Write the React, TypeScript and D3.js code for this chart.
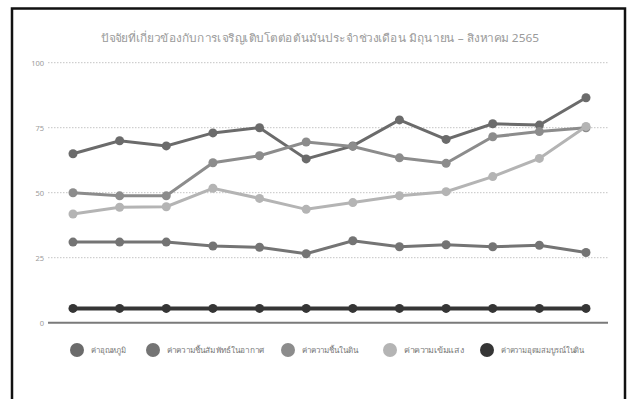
import React, { useEffect, useRef } from "react";
import * as d3 from "d3";

const title =
  "ปัจจัยที่เกี่ยวข้องกับการเจริญเติบโตต่อต้นมันประจำช่วงเดือน มิถุนายน – สิงหาคม 2565";

const categories = ["1", "2", "3", "4", "5", "6", "7", "8", "9", "10", "11", "12"];

const seriesNames = [
  "ค่าอุณหภูมิ",
  "ค่าความชื้นสัมพัทธ์ในอากาศ",
  "ค่าความชื้นในดิน",
  "ค่าความเข้มแสง",
  "ค่าความอุดมสมบูรณ์ในดิน",
];

const temperature = [65, 70, 68, 73, 75, 63, 68, 78, 70.5, 76.5, 76, 86.5];
const airHumidity = [31, 31, 31, 29.5, 29, 26.5, 31.5, 29.2, 30, 29.2, 29.8, 27];
const soilMoisture = [50, 48.8, 48.8, 61.5, 64.2, 69.5, 67.8, 63.4, 61.3, 71.5, 73.5, 75];
const lightIntensity = [41.8, 44.4, 44.6, 51.7, 47.8, 43.6, 46.2, 48.8, 50.4, 56.2, 63.2, 75.5];
const soilFertility = [5.5, 5.5, 5.5, 5.5, 5.5, 5.5, 5.5, 5.5, 5.5, 5.5, 5.5, 5.5];

const yTicks = [0, 25, 50, 75, 100];

const colors = ["#6b6b6b", "#747474", "#8c8c8c", "#b4b4b4", "#353535"];

const W = 634;
const H = 399;

const App = () => {
  const canvas = useRef<SVGSVGElement>(null);

  useEffect(() => {
    const svg = d3.select(canvas.current);
    svg.selectAll("*").remove();

    const data = [temperature, airHumidity, soilMoisture, lightIntensity, soilFertility];

    const x = d3.scalePoint().domain(categories).range([73, 586]);
    const y = d3.scaleLinear().domain([0, 100]).range([322.7, 62.7]);

    svg.append("rect").attr("width", W).attr("height", H).attr("fill", "#fff");

    // frame
    svg
      .append("rect")
      .attr("x", 12)
      .attr("y", 8.5)
      .attr("width", 613)
      .attr("height", 420)
      .attr("fill", "none")
      .attr("stroke", "#111")
      .attr("stroke-width", 2.5);

    svg
      .append("text")
      .text(title)
      .attr("x", 320)
      .attr("y", 42)
      .attr("text-anchor", "middle")
      .attr("font-family", "Noto Sans, DejaVu Sans, sans-serif")
      .attr("font-size", 11)
      .attr("fill", "#9a9a9a")
      .attr("textLength", 438)
      .attr("lengthAdjust", "spacingAndGlyphs");

    // grid + axis labels
    const grid = svg.append("g");
    grid
      .selectAll("line")
      .data(yTicks)
      .enter()
      .append("line")
      .attr("x1", 48)
      .attr("x2", 608)
      .attr("y1", (d) => y(d))
      .attr("y2", (d) => y(d))
      .attr("stroke", (d) => (d === 0 ? "#7a7a7a" : "#c4c4c4"))
      .attr("stroke-width", (d) => (d === 0 ? 2 : 1))
      .attr("stroke-dasharray", (d) => (d === 0 ? null : "1.5,1.5"));

    grid
      .selectAll("text")
      .data(yTicks)
      .enter()
      .append("text")
      .text((d) => d)
      .attr("x", 44)
      .attr("y", (d) => y(d) + 3)
      .attr("text-anchor", "end")
      .attr("font-family", "Noto Sans, sans-serif")
      .attr("font-size", 7.5)
      .attr("fill", "#9a9a9a");

    const line = d3
      .line<number>()
      .x((d, i) => x(categories[i]) as number)
      .y((d) => y(d));

    data.forEach((vals, s) => {
      const g = svg.append("g");
      g.append("path")
        .attr("d", line(vals))
        .attr("fill", "none")
        .attr("stroke", colors[s])
        .attr("stroke-width", s === 4 ? 4 : 3);
      g.selectAll("circle")
        .data(vals)
        .enter()
        .append("circle")
        .attr("cx", (d, i) => x(categories[i]) as number)
        .attr("cy", (d) => y(d))
        .attr("r", 4.5)
        .attr("fill", colors[s]);
    });

    // legend
    const legendMarkers = [77, 153, 288, 390, 487];
    const legendWidths = [35, 97, 56, 60, 83];
    const legend = svg.append("g");
    seriesNames.forEach((name, i) => {
      legend
        .append("circle")
        .attr("cx", legendMarkers[i])
        .attr("cy", 350)
        .attr("r", 7)
        .attr("fill", colors[i]);
      legend
        .append("text")
        .text(name)
        .attr("x", legendMarkers[i] + 14)
        .attr("y", 353)
        .attr("font-family", "Noto Sans, DejaVu Sans, sans-serif")
        .attr("font-size", 8)
        .attr("fill", "#777")
        .attr("textLength", legendWidths[i])
        .attr("lengthAdjust", "spacingAndGlyphs");
    });
  }, []);

  return (
    <svg
      ref={canvas}
      width={W}
      height={H}
      viewBox={`0 0 ${W} ${H}`}
      style={{ position: "absolute", left: 0, top: 0, background: "#fff" }}
    ></svg>
  );
};

export default App;
